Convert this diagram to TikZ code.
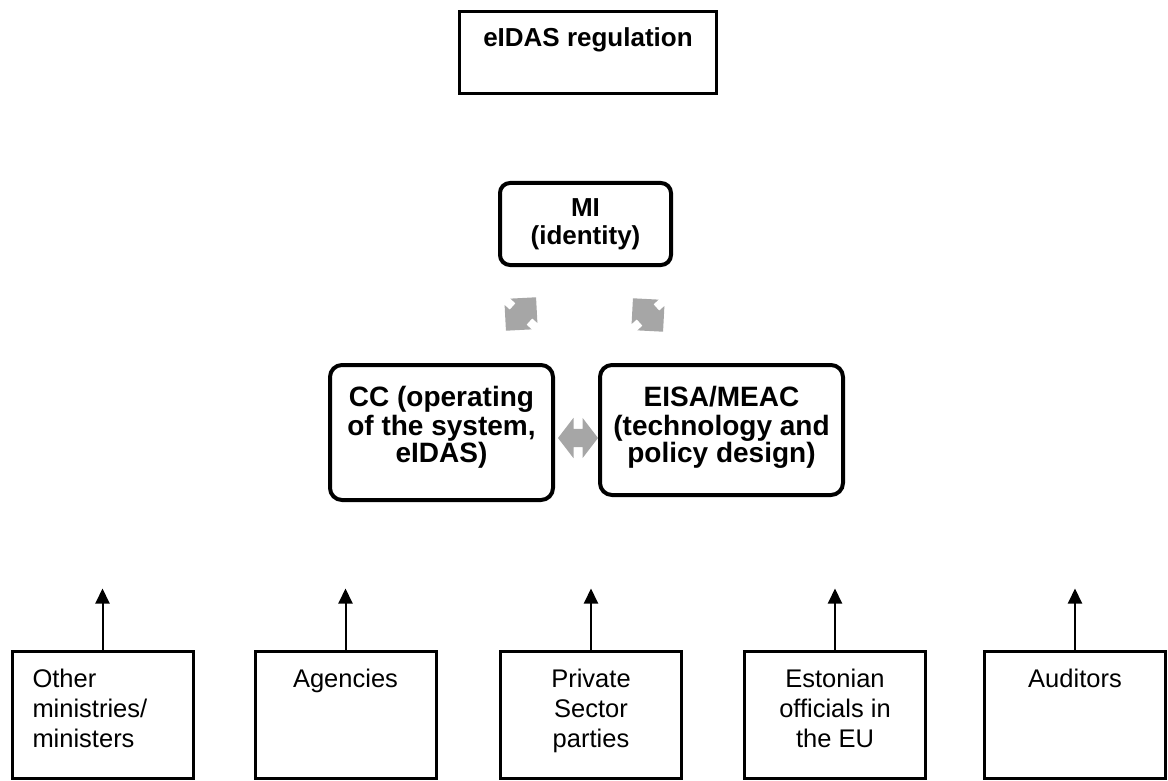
\documentclass[tikz,border=0pt]{standalone}
\usepackage{fontspec}
\setmainfont{Liberation Sans}
\usetikzlibrary{arrows.meta,shapes.arrows}
\definecolor{linkgray}{RGB}{166,166,166}

\begin{document}
\begin{tikzpicture}[x=1pt,y=-1pt,
    toptext/.style n args={3}{execute at begin node={\begin{minipage}[c][#1][t]{#2}#3\strut},
                              execute at end node={\end{minipage}}},
    regbox/.style={draw, line width=3pt, inner sep=0pt, font=\bfseries\fontsize{26}{25.5}\selectfont},
    govbox/.style={draw, line width=4pt, rounded corners=12pt, inner sep=0pt, font=\bfseries\fontsize{28}{26}\selectfont},
    actorbox/.style={draw, line width=3pt, inner sep=0pt, minimum width=181pt, minimum height=127pt,
                     font=\fontsize{25.5}{30}\selectfont},
    actortext/.style={toptext={98pt}{150pt}{\centering}},
    linkarrow/.style={double arrow, fill=linkgray, inner xsep=0pt, inner ysep=9pt, minimum height=40pt,
                      double arrow head extend=11pt, double arrow tip angle=105},
    diagarrow/.style={linkarrow, inner ysep=11pt, minimum height=45pt,
                      double arrow head extend=7pt, double arrow tip angle=90},
    uparrow/.style={line width=2pt, -{Triangle[length=15pt,width=14pt]}}]
  \useasboundingbox (0,0) rectangle (1168,781);

  % top level
  \node[regbox, minimum width=257pt, minimum height=82pt, toptext={49pt}{240pt}{\centering}] (eidas) at (588,52.5) {eIDAS regulation};

  % the three bodies
  \node[govbox, font=\bfseries\fontsize{26}{25.5}\selectfont, rounded corners=10pt, minimum width=171pt, minimum height=82pt,
        toptext={50pt}{160pt}{\centering}] (mi) at (585.5,224) {MI\\(identity)};
  \node[govbox, minimum width=223pt, minimum height=135pt, toptext={93pt}{218pt}{\centering}] (cc) at (441.5,432.5) {CC (operating\\of the system,\\eIDAS)};
  \node[govbox, minimum width=243pt, minimum height=130pt, toptext={88pt}{240pt}{\centering}] (eisa) at (721.5,430) {EISA/MEAC\\(technology and\\policy design)};

  \node[diagarrow, rotate=48] (micc) at (521,314) {};
  \node[diagarrow, rotate=-48] (mieisa) at (648,315) {};
  \node[linkarrow] (cceisa) at (578,438) {};

  % actors
  \node[actorbox, toptext={98pt}{140pt}{\raggedright}] (oth) at (102.5,715) {Other\\ministries/\\ministers};
  \node[actorbox, actortext] (agn) at (345.5,715) {Agencies};
  \node[actorbox, actortext] (prv) at (591,715) {Private\\Sector\\parties};
  \node[actorbox, actortext] (est) at (835,715) {Estonian\\officials in\\the EU};
  \node[actorbox, actortext] (aud) at (1075,715) {Auditors};

  \foreach \a in {oth,agn,prv,est,aud}{
    \coordinate (\a top) at ([yshift=61.5pt]\a.north);
    \draw[uparrow] (\a.north) -- (\a top);
  }
\end{tikzpicture}
\end{document}
